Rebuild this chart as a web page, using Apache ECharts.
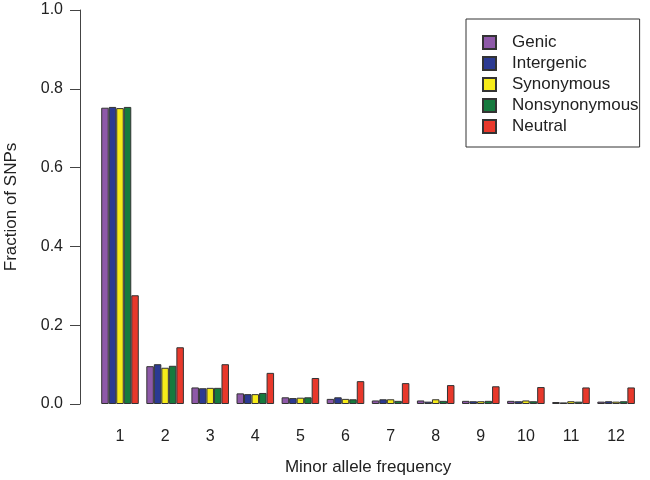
<!DOCTYPE html>
<html>
<head>
<meta charset="utf-8">
<script src="https://cdn.jsdelivr.net/npm/echarts@6/dist/echarts.min.js"></script>
<style>html,body{margin:0;padding:0;background:#fff}#c{width:650px;height:480px}</style>
</head>
<body>
<div id="c"></div>
<script>
const categories = ['1','2','3','4','5','6','7','8','9','10','11','12'];
const seriesNames = ['Genic','Intergenic','Synonymous','Nonsynonymous','Neutral'];
const genic         = [0.752, 0.096, 0.042, 0.027, 0.017, 0.013, 0.009, 0.009, 0.008, 0.008, 0.005, 0.006];
const intergenic    = [0.754, 0.101, 0.040, 0.025, 0.015, 0.017, 0.012, 0.006, 0.007, 0.007, 0.004, 0.007];
const synonymous    = [0.751, 0.092, 0.041, 0.025, 0.016, 0.013, 0.012, 0.012, 0.007, 0.009, 0.007, 0.006];
const nonsynonymous = [0.754, 0.097, 0.041, 0.028, 0.017, 0.012, 0.008, 0.008, 0.008, 0.007, 0.006, 0.007];
const neutral       = [0.276, 0.144, 0.101, 0.079, 0.066, 0.058, 0.053, 0.048, 0.045, 0.043, 0.042, 0.042];
const yTicks = ['0.0','0.2','0.4','0.6','0.8','1.0'];

const values = [genic, intergenic, synonymous, nonsynonymous, neutral];
const colors = ['#8E59A8', '#2B3A92', '#F6EB1A', '#167A3E', '#E8382B'];
const font = 'Liberation Sans, Arial, Helvetica, sans-serif';

const chart = echarts.init(document.getElementById('c'), null, {renderer: 'canvas'});
chart.setOption({
  animation: false,
  textStyle: {fontFamily: font},
  grid: {left: 97.45, right: 11.35, top: 10, bottom: 76, containLabel: false, outerBoundsMode: 'none'},
  legend: {
    orient: 'vertical',
    left: 466, top: 19,
    padding: [15, 1, 12, 16],
    itemWidth: 13, itemHeight: 13, itemGap: 4,
    icon: 'rect',
    borderColor: '#333', borderWidth: 1,
    textStyle: {fontSize: 17, color: '#222', padding: [0, 0, 0, 11], fontFamily: font},
    data: seriesNames
  },
  xAxis: {
    type: 'category',
    data: categories,
    axisLine: {show: false},
    axisTick: {show: false},
    axisLabel: {fontSize: 16, color: '#222', margin: 25, fontFamily: font},
    name: 'Minor allele frequency',
    nameLocation: 'middle',
    nameGap: 55,
    nameTextStyle: {fontSize: 17, color: '#222', fontFamily: font}
  },
  yAxis: {
    type: 'value',
    min: 0, max: 1, interval: 0.2,
    offset: 17.45,
    axisLine: {show: true, lineStyle: {color: '#444', width: 1}},
    axisTick: {show: true, inside: false, length: 10, lineStyle: {color: '#444', width: 1}},
    splitLine: {show: false},
    axisLabel: {fontSize: 16, color: '#222', margin: 17, fontFamily: font,
      formatter: v => yTicks[Math.round(v / 0.2)]},
    name: 'Fraction of SNPs',
    nameLocation: 'middle',
    nameGap: 60,
    nameTextStyle: {fontSize: 17, color: '#222', fontFamily: font}
  },
  series: seriesNames.map((n, i) => ({
    name: n,
    type: 'bar',
    data: values[i],
    barGap: '0%',
    barCategoryGap: '16.7%',
    itemStyle: {color: colors[i], borderColor: '#333', borderWidth: 1}
  }))
});
</script>
</body>
</html>
